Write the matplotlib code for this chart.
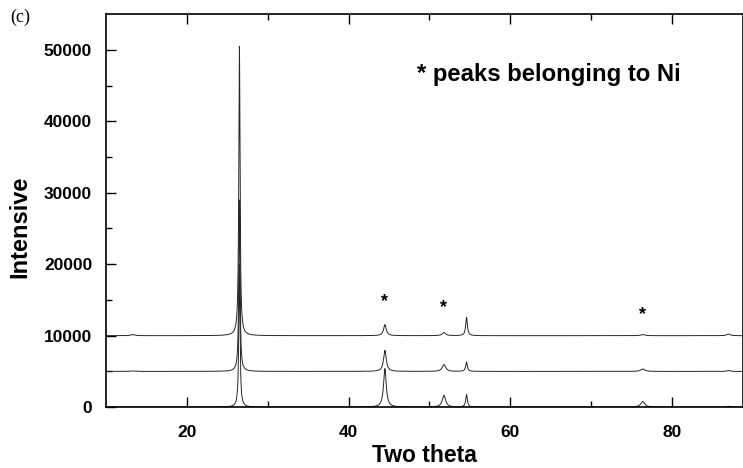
import numpy as np
import matplotlib.pyplot as plt

plt.rcParams['font.family'] = ['Liberation Sans', 'DejaVu Sans']

# peak positions (two theta) and heights above baseline for the three patterns
positions = [13.3, 26.5, 44.5, 51.8, 54.6, 76.4, 87.0]
widths = [0.6, 0.18, 0.4, 0.5, 0.25, 0.6, 0.5]
heights_bottom = [0, 20000, 5400, 1650, 1750, 780, 120]
heights_middle = [60, 24000, 2950, 950, 1300, 340, 120]
heights_top = [150, 40500, 1550, 430, 2580, 150, 230]
offsets = [0, 5000, 10000]

ni_marks_x = [44.5, 51.8, 76.4]
ni_marks_y = [14700, 13900, 12900]


def pattern(t, heights, base):
    y = np.full_like(t, base, dtype=float)
    for p, w, h in zip(positions, widths, heights):
        y += h / (1 + ((t - p) / (w / 2)) ** 2)
    return y


t = np.linspace(10, 90, 8000)

fig = plt.figure(figsize=(7.43, 4.68), dpi=100)
ax = fig.add_axes([0.1427, 0.130, 0.8573, 0.840])

for hs, off in zip([heights_bottom, heights_middle, heights_top], offsets):
    ax.plot(t, pattern(t, hs, off), color='0.15', lw=0.7)

for x, y in zip(ni_marks_x, ni_marks_y):
    ax.text(x, y, '*', ha='center', va='center', fontsize=13, fontweight='bold')

fig.text(417 / 743, 1 - 74 / 468, '* peaks belonging to Ni',
         fontsize=17.2, fontweight='bold', va='center', ha='left')
fig.text(10 / 743, 1 - 17 / 468, '(c)', family='Liberation Serif', fontsize=13, va='center')

ax.set_xlim(10, 88.8)
ax.set_ylim(0, 55000)
ax.set_xticks([20, 40, 60, 80])
ax.set_xticks([30, 50, 70], minor=True)
ax.set_yticks([0, 10000, 20000, 30000, 40000, 50000])
ax.set_yticks([5000, 15000, 25000, 35000, 45000], minor=True)
ax.tick_params(which='both', direction='in', top=True, labelsize=12.5, width=1)
ax.tick_params(which='major', length=7)
ax.tick_params(which='minor', length=4)
ax.tick_params(axis='x', pad=13)
ax.tick_params(axis='y', pad=10)
for lab in ax.get_xticklabels() + ax.get_yticklabels():
    lab.set_fontweight('bold')
for s in ax.spines.values():
    s.set_linewidth(1.2)

ax.set_xlabel('Two theta', fontsize=16.5, fontweight='bold', labelpad=3)
ax.set_ylabel('Intensive', fontsize=17, fontweight='bold')
ax.yaxis.set_label_coords(-0.117, 0.46)

fig.savefig('out.png', dpi=100)
